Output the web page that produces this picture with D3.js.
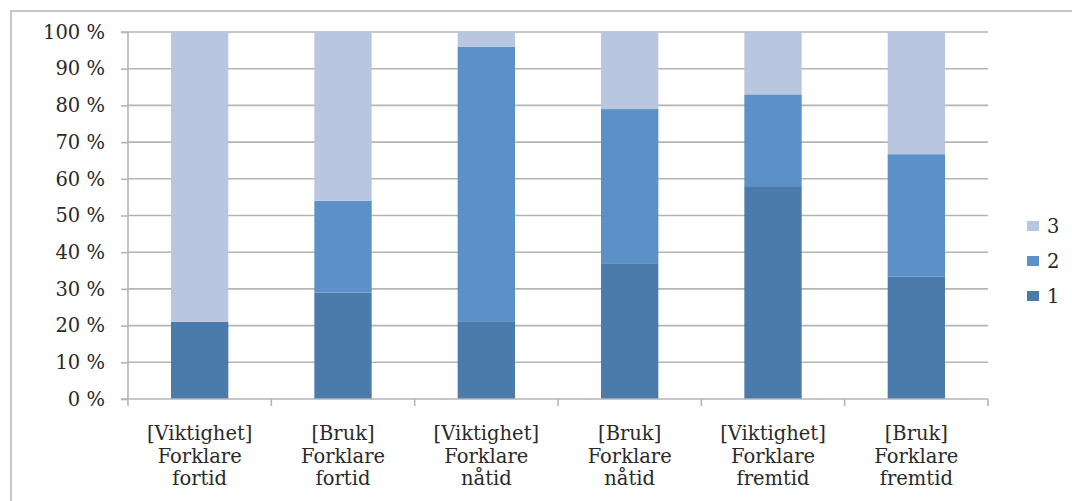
<!DOCTYPE html>
<html><head><meta charset="utf-8">
<script src="https://cdn.jsdelivr.net/npm/d3@7"></script>
<style>body{margin:0;background:#fff}svg{display:block}</style>
</head><body><svg id="c" width="1072" height="501"></svg>
<script>
const categories = [
  ["[Viktighet]","Forklare","fortid"],
  ["[Bruk]","Forklare","fortid"],
  ["[Viktighet]","Forklare","nåtid"],
  ["[Bruk]","Forklare","nåtid"],
  ["[Viktighet]","Forklare","fremtid"],
  ["[Bruk]","Forklare","fremtid"]
];
const series1 = [21, 29, 21, 37, 58, 33.3];
const series2 = [0, 25, 75, 42, 25, 33.4];
const series3 = [79, 46, 4, 21, 17, 33.3];
const seriesNames = ["1","2","3"];
const yTicks = [0,10,20,30,40,50,60,70,80,90,100];

const colors = {"1":"#4a7bab","2":"#5b91c6","3":"#b9c6e0"};
const svg = d3.select("#c");
const font = "'DejaVu Serif', serif";
const fs = "19.5px";
const tc = "#2a2a2a";

// frame
svg.append("path").attr("d","M11,501V11H1072").attr("fill","none").attr("stroke","#c6c6c6").attr("stroke-width",2);

const L=128, R=988, T=32, B=399;
const x = d3.scaleBand().domain(d3.range(categories.length)).range([L,R]).paddingInner(0.6).paddingOuter(0.3);
const xb = d3.scaleBand().domain(d3.range(categories.length)).range([L,R]);
const y = d3.scaleLinear().domain([0,100]).range([B,T]);

// gridlines
svg.append("g").selectAll("line").data(yTicks.filter(d=>d>0)).join("line")
  .attr("x1",L).attr("x2",R).attr("y1",d=>y(d)).attr("y2",d=>y(d))
  .attr("stroke","#b4b4b4").attr("stroke-width",1.6);

// stacked bars
const table = categories.map((c,i)=>({i, "1":series1[i], "2":series2[i], "3":series3[i]}));
const stacked = d3.stack().keys(seriesNames)(table);
svg.append("g").selectAll("g").data(stacked).join("g")
  .attr("fill",d=>colors[d.key])
  .selectAll("rect").data(d=>d).join("rect")
  .attr("x",d=>x(d.data.i)).attr("width",x.bandwidth())
  .attr("y",d=>y(d[1])).attr("height",d=>Math.max(0,y(d[0])-y(d[1])));

// y axis
const ya = svg.append("g").attr("transform",`translate(${L},0)`)
  .call(d3.axisLeft(y).tickValues(yTicks).tickSize(7).tickPadding(16).tickFormat(d=>d+" %"));
ya.select(".domain").attr("stroke","#b4b4b4").attr("stroke-width",1.6).attr("d",`M-7,${T}H0V${B}H-7`);
ya.selectAll(".tick line").attr("stroke","#b4b4b4").attr("stroke-width",1.6);
ya.selectAll("text").attr("font-family",font).attr("font-size",fs).attr("fill",tc);

// x axis
const xa = svg.append("g").attr("transform",`translate(0,${B})`);
xa.append("line").attr("x1",L).attr("x2",R).attr("stroke","#b4b4b4").attr("stroke-width",1.6);
xa.selectAll("line.t").data(d3.range(categories.length+1)).join("line").attr("class","t")
  .attr("x1",d=>L+d*xb.step()).attr("x2",d=>L+d*xb.step()).attr("y1",0).attr("y2",7)
  .attr("stroke","#b4b4b4").attr("stroke-width",1.6);
const lab = svg.append("g").selectAll("text").data(categories).join("text")
  .attr("font-family",font).attr("font-size",fs).attr("fill",tc).attr("text-anchor","middle");
lab.selectAll("tspan").data((d,i)=>d.map(s=>({s,i}))).join("tspan")
  .attr("x",d=>xb(d.i)+xb.bandwidth()/2).attr("y",(d,j)=>440+j*22.5).text(d=>d.s);

// legend
const leg = svg.append("g").selectAll("g").data(seriesNames.slice().reverse()).join("g")
  .attr("transform",(d,i)=>`translate(1027,${221+i*35})`);
leg.append("rect").attr("width",12).attr("height",10).attr("fill",d=>colors[d]);
leg.append("text").attr("x",20).attr("y",5).attr("dy","0.36em").attr("font-family",font)
  .attr("font-size",fs).attr("fill",tc).text(d=>d);
</script></body></html>
